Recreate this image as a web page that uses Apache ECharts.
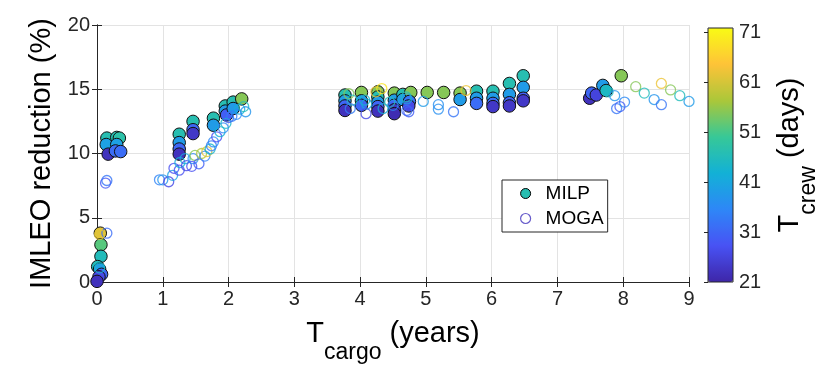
<!DOCTYPE html>
<html>
<head>
<meta charset="utf-8">
<title>IMLEO reduction vs T cargo</title>
<script src="https://cdn.jsdelivr.net/npm/echarts@6/dist/echarts.min.js"></script>
<style>
  html, body { margin: 0; padding: 0; background: #fff; }
  #chart { width: 830px; height: 369px; }
</style>
</head>
<body>
<div id="chart"></div>
<script>
// data: [T_cargo (years), IMLEO reduction (%), T_crew (days)]
var milpPoints = [
    [0.15, 11.2, 47], [0.30, 11.25, 47], [0.34, 11.2, 48], [0.14, 10.7, 40], [0.30, 10.7, 40],
    [0.17, 9.95, 23], [0.28, 10.2, 32], [0.36, 10.15, 32],
    [0.05, 3.8, 62], [0.06, 2.9, 52], [0.06, 2.0, 46], [0.01, 1.2, 46], [0.04, 1.0, 40],
    [0.07, 0.6, 31], [0.03, 0.4, 27], [0.00, 0.05, 23],
    [1.25, 11.5, 47], [1.25, 10.85, 39], [1.25, 10.35, 31], [1.25, 9.95, 23],
    [1.46, 12.5, 47], [1.46, 11.85, 31], [1.46, 11.55, 24],
    [1.77, 12.75, 47], [1.77, 12.2, 39],
    [1.95, 13.7, 47], [1.95, 13.3, 39], [1.97, 13.0, 30],
    [2.07, 14.0, 47], [2.07, 13.5, 39], [2.20, 14.25, 55],
    [3.77, 14.55, 47], [3.77, 14.1, 39], [3.77, 13.7, 31], [3.77, 13.35, 23],
    [4.02, 14.75, 55], [4.02, 14.1, 39], [4.02, 13.75, 31],
    [4.27, 14.8, 55], [4.27, 14.4, 47], [4.27, 14.0, 39], [4.27, 13.65, 31], [4.27, 13.3, 23],
    [4.52, 14.7, 55], [4.52, 14.15, 39], [4.52, 13.75, 31], [4.52, 13.4, 24], [4.52, 13.1, 22],
    [4.65, 14.6, 47], [4.65, 14.2, 39],
    [4.77, 14.75, 55], [4.75, 14.05, 33], [4.74, 13.7, 27],
    [5.02, 14.75, 55], [5.27, 14.75, 55], [5.52, 14.7, 55], [5.52, 14.2, 39],
    [5.77, 14.85, 47], [5.77, 14.3, 39], [5.77, 13.9, 32],
    [6.02, 14.85, 47], [6.02, 14.3, 39], [6.02, 13.9, 32], [6.02, 13.65, 24],
    [6.27, 15.45, 47], [6.27, 14.6, 39], [6.27, 13.95, 31], [6.27, 13.7, 24],
    [6.48, 16.05, 47], [6.48, 15.15, 39], [6.48, 14.3, 30], [6.48, 14.1, 24],
    [7.49, 14.3, 23], [7.52, 14.7, 31], [7.59, 14.55, 26], [7.69, 15.3, 39], [7.74, 14.9, 45],
    [7.97, 16.05, 55]
];

var mogaPoints = [
    [0.13, 7.7, 29], [0.15, 7.9, 33], [0.15, 3.8, 32], [0.04, 3.7, 62], [0.04, 1.1, 44],
    [0.95, 7.95, 35], [1.00, 7.95, 38], [1.09, 7.8, 27], [1.15, 8.3, 40], [1.17, 8.85, 28],
    [1.25, 8.7, 28], [1.26, 9.3, 42], [1.34, 9.6, 42], [1.36, 9.05, 27], [1.44, 9.0, 28],
    [1.46, 9.6, 36], [1.49, 9.85, 55], [1.55, 9.2, 30], [1.59, 10.0, 58], [1.64, 9.8, 35],
    [1.67, 10.15, 62], [1.72, 10.35, 44], [1.74, 10.6, 34], [1.77, 10.9, 36], [1.82, 11.3, 28],
    [1.87, 11.7, 43], [1.92, 12.0, 36], [1.96, 12.35, 44], [2.00, 12.8, 30], [2.05, 12.9, 34],
    [2.12, 13.05, 36], [2.17, 13.45, 42], [2.23, 13.65, 46], [2.26, 13.25, 38],
    [3.83, 14.65, 55], [3.88, 14.15, 46], [3.85, 13.5, 34], [4.07, 14.15, 44], [4.10, 13.85, 42],
    [4.09, 13.1, 27], [4.24, 14.8, 63], [4.33, 15.05, 69], [4.35, 13.5, 42], [4.45, 14.0, 46],
    [4.50, 13.75, 36], [4.70, 14.4, 46], [4.71, 14.25, 40], [4.71, 13.35, 32], [4.74, 13.25, 30],
    [4.96, 14.05, 39], [5.19, 13.8, 37], [5.19, 13.45, 37], [5.42, 13.25, 33], [5.61, 14.9, 63],
    [7.77, 14.8, 45], [7.87, 14.5, 38], [8.02, 14.0, 36], [7.95, 13.65, 30], [7.90, 13.5, 33],
    [8.19, 15.2, 55], [8.32, 14.7, 46], [8.47, 14.2, 38], [8.58, 15.45, 63], [8.58, 13.8, 33],
    [8.72, 14.95, 55], [8.86, 14.5, 46], [9.00, 14.05, 39]
];

var xTicks = [0, 1, 2, 3, 4, 5, 6, 7, 8, 9];
var yTicks = [0, 5, 10, 15, 20];
var crewTicks = [21, 31, 41, 51, 61, 71];
var crewMin = 21, crewMax = 71.8;

// parula colormap stops
var parulaStops = ['#3e26a8', '#4852f4', '#2e87f7', '#12b1d6', '#37c897', '#abc739', '#fec338', '#f9fb15'];

var parula = (t) => {
    var f = Math.min(1, Math.max(0, (t - crewMin) / (crewMax - crewMin))) * (parulaStops.length - 1);
    var i = Math.min(parulaStops.length - 2, Math.floor(f)), k = f - i;
    var a = echarts.color.parse(parulaStops[i]), b = echarts.color.parse(parulaStops[i + 1]);
    return 'rgb(' + [0, 1, 2].map(j => Math.round(a[j] + (b[j] - a[j]) * k)).join(',') + ')';
};

var font = "'Liberation Sans', Arial, sans-serif";
var ink = '#262626';

// label with a subscript, e.g. T_cargo
var subRich = {
    a: { fontSize: 29, color: '#000', fontFamily: font, verticalAlign: 'top', lineHeight: 30 },
    b: { fontSize: 23, color: '#000', fontFamily: font, padding: [22, 0, 0, 0] }
};

var chart = echarts.init(document.getElementById('chart'), null, { renderer: 'canvas' });

var option = {
    backgroundColor: '#fff',
    animation: false,
    textStyle: { fontFamily: font, color: ink },
    grid: [
        { left: 97, top: 25, width: 592, height: 257, containLabel: false },
        { left: 708, top: 28, width: 25, height: 254, show: true, z: 10,
          borderColor: ink, borderWidth: 1, backgroundColor: 'transparent' }
    ],
    legend: {
        orient: 'vertical',
        left: 502, top: 180,
        padding: [4, 4, 4, 18],
        itemGap: 6,
        itemWidth: 10, itemHeight: 10,
        borderColor: ink, borderWidth: 1,
        backgroundColor: '#fff',
        textStyle: { fontSize: 19, color: '#000', fontFamily: font, padding: [0, 0, 0, 10] },
        data: [
            { name: 'MILP', icon: 'circle', itemStyle: { color: parula(47), borderColor: '#000', borderWidth: 1 } },
            { name: 'MOGA', icon: 'circle', itemStyle: { color: 'rgba(0,0,0,0)', borderColor: parula(23), borderWidth: 1.2 } }
        ]
    },
    visualMap: {
        type: 'continuous',
        min: crewMin, max: crewMax,
        dimension: 2,
        seriesIndex: 0,
        left: 708, top: 28,
        padding: 0,
        itemWidth: 25, itemHeight: 254,
        calculable: false,
        hoverLink: false,
        showLabel: false,
        text: null,
        inRange: { color: parulaStops }
    },
    xAxis: [
        {
            gridIndex: 0, type: 'value', min: 0, max: 9, interval: 1, position: 'bottom',
            axisLine: { show: true, lineStyle: { color: ink, width: 1 } },
            axisTick: { show: true, inside: true, length: 5, lineStyle: { color: ink } },
            axisLabel: { fontSize: 20, color: ink, margin: 7, fontFamily: font },
            splitLine: { show: true, lineStyle: { color: '#e3e3e3', width: 1 } },
            name: '{a|T}{b|cargo}{a| (years)}',
            nameLocation: 'middle', nameGap: 37,
            nameTextStyle: { rich: subRich }
        },
        {
            gridIndex: 0, type: 'value', min: 0, max: 9, interval: 1, position: 'top',
            axisLine: { show: true, lineStyle: { color: ink, width: 1 } },
            axisTick: { show: true, inside: true, length: 5, lineStyle: { color: ink } },
            axisLabel: { show: false },
            splitLine: { show: false }
        },
        { gridIndex: 1, type: 'value', min: 0, max: 1, show: false }
    ],
    yAxis: [
        {
            gridIndex: 0, type: 'value', min: 0, max: 20, interval: 5, position: 'left',
            axisLine: { show: true, lineStyle: { color: ink, width: 1 } },
            axisTick: { show: true, inside: true, length: 5, lineStyle: { color: ink } },
            axisLabel: { fontSize: 20, color: ink, margin: 7, fontFamily: font },
            splitLine: { show: true, lineStyle: { color: '#e3e3e3', width: 1 } },
            name: 'IMLEO reduction (%)',
            nameLocation: 'middle', nameGap: 34,
            nameTextStyle: { fontSize: 29, color: '#000', fontFamily: font }
        },
        {
            gridIndex: 0, type: 'value', min: 0, max: 20, interval: 5, position: 'right',
            axisLine: { show: true, lineStyle: { color: ink, width: 1 } },
            axisTick: { show: true, inside: true, length: 5, lineStyle: { color: ink } },
            axisLabel: { show: false },
            splitLine: { show: false }
        },
        {
            gridIndex: 1, type: 'value', min: crewMin, max: crewMax, position: 'right', z: 10,
            axisLine: { show: false },
            axisTick: { show: true, inside: true, length: 4, lineStyle: { color: ink }, customValues: crewTicks },
            axisLabel: { fontSize: 20, color: ink, margin: 6, fontFamily: font, customValues: crewTicks },
            splitLine: { show: false },
            name: '{a|T}{b|crew}{a| (days)}',
            nameLocation: 'middle', nameGap: 42, nameRotate: 90,
            nameTextStyle: { rich: subRich }
        }
    ],
    series: [
        {
            name: 'MILP', type: 'scatter', xAxisIndex: 0, yAxisIndex: 0,
            symbol: 'circle', symbolSize: 12.5, clip: false,
            itemStyle: { borderColor: '#111', borderWidth: 1, opacity: 1 },
            emphasis: { disabled: true },
            data: milpPoints
        },
        {
            name: 'MOGA', type: 'scatter', xAxisIndex: 0, yAxisIndex: 0,
            symbol: 'circle', symbolSize: 10, clip: false, z: 3,
            emphasis: { disabled: true },
            data: mogaPoints.map(p => ({
                value: p,
                itemStyle: { color: 'rgba(0,0,0,0)', borderColor: parula(p[2]), borderWidth: 1.3 }
            }))
        }
    ]
};

chart.setOption(option);
</script>
</body>
</html>
